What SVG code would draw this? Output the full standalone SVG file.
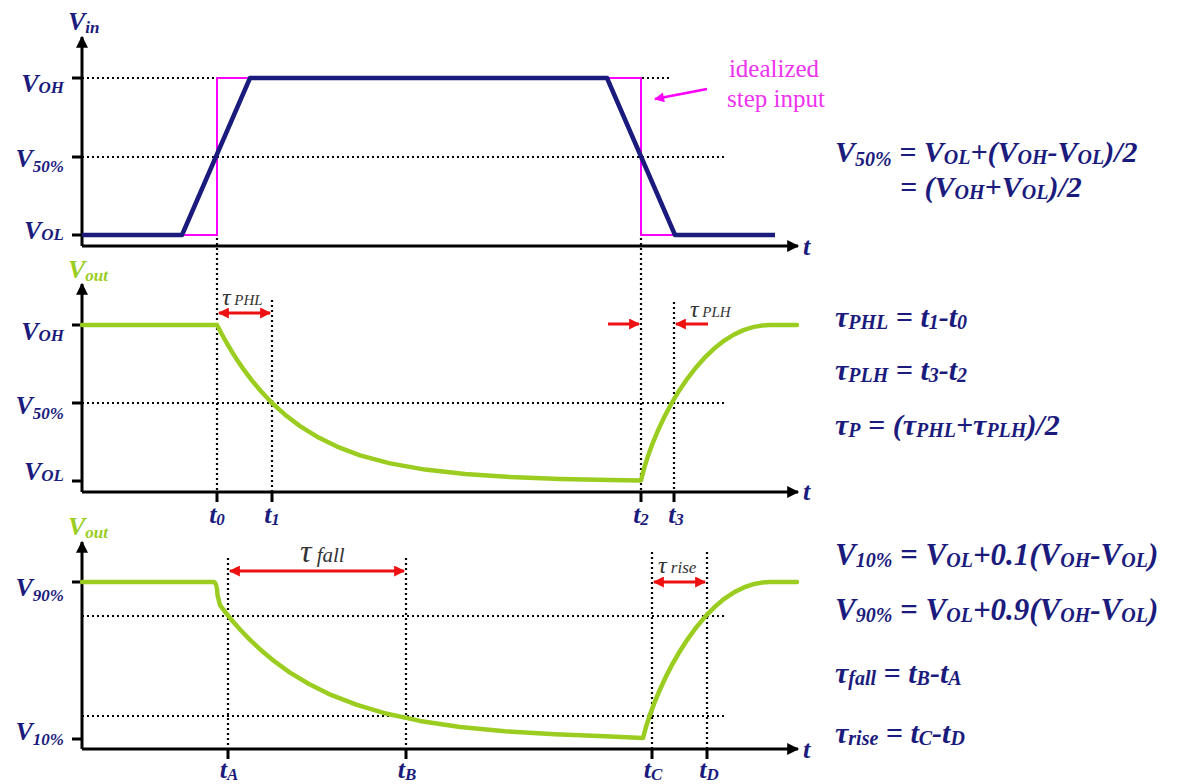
<svg xmlns="http://www.w3.org/2000/svg" width="1201" height="784" viewBox="0 0 1201 784" font-family="'Liberation Serif', 'DejaVu Serif', serif">
<style>
.ax{stroke:#000;stroke-width:3;fill:none}
.tk{stroke:#000;stroke-width:3;fill:none}
.dot{stroke:#000;stroke-width:2.2;stroke-dasharray:2 3;fill:none}
.blue{stroke:#1b1b7d;stroke-width:4.5;fill:none;stroke-linejoin:round}
.mag{stroke:#ff00ff;stroke-width:2;fill:none}
.grn{stroke:#9acd20;stroke-width:4.5;fill:none;stroke-linejoin:round;stroke-linecap:round}
.red{stroke:#ee1111;stroke-width:3;fill:none}
.L{font-family:'Liberation Serif','DejaVu Serif',serif;font-weight:bold;font-style:italic;fill:#1b1b7d;font-size:26px}
.G{fill:#9acd20}
.R{fill:#ee1111}
.s{font-size:17px}
.E{font-family:'Liberation Serif','DejaVu Serif',serif;font-weight:bold;font-style:italic;fill:#1b1b7d;font-size:30px}
.E2{font-size:31px}
.es{font-size:20px}
.T{font-family:'Liberation Serif','DejaVu Serif',serif;font-style:italic;fill:#333;font-size:24px}
.ts{font-size:15px}
.M{font-family:'Liberation Serif','DejaVu Serif',serif;fill:#ee33ee;font-size:25px}
</style>
<defs>
<marker id="ah" viewBox="0 0 10 10" refX="9" refY="5" markerWidth="14" markerHeight="12" markerUnits="userSpaceOnUse" orient="auto"><path d="M0,0 L10,5 L0,10 z" fill="#000"/></marker>
<marker id="rh" viewBox="0 0 10 10" refX="9" refY="5" markerWidth="12" markerHeight="11" markerUnits="userSpaceOnUse" orient="auto-start-reverse"><path d="M0,0 L10,5 L0,10 z" fill="#ee1111"/></marker>
<marker id="mh" viewBox="0 0 10 10" refX="9" refY="5" markerWidth="12" markerHeight="10" markerUnits="userSpaceOnUse" orient="auto"><path d="M0,0 L10,5 L0,10 z" fill="#ff00ff"/></marker>
</defs>

<g id="plot-vin">
<path class="dot" d="M82,78 H670 M82,157 H727"/>
<path class="ax" d="M82,246 V37" marker-end="url(#ah)"/>
<path class="ax" d="M82,246 H798" marker-end="url(#ah)"/>
<path class="tk" d="M72,78 H82 M72,157 H82 M72,235 H82"/>
<path class="mag" d="M182,235 H217 V78 H250 M607,78 H641 V235 H675"/>
<path class="blue" d="M82,235 H182 L250,78 H607 L675,235 H775"/>
<text class="L" x="68" y="30">V<tspan class="s" dy="3">in</tspan></text>
<text class="L" x="64" y="92" text-anchor="end">V<tspan class="s" dy="1">OH</tspan></text>
<text class="L" x="64" y="167" text-anchor="end">V<tspan class="s" dy="5">50%</tspan></text>
<text class="L" x="64" y="239" text-anchor="end">V<tspan class="s" dy="1">OL</tspan></text>
<text class="L" x="803" y="255">t</text>
</g>

<g id="step-note">
<text class="M" x="774" y="77" text-anchor="middle">idealized</text>
<text class="M" x="776" y="107" text-anchor="middle">step input</text>
<path d="M707,89 L655,99" stroke="#ff00ff" stroke-width="2.5" fill="none" marker-end="url(#mh)"/>
</g>

<g id="plot-vout1">
<path class="dot" d="M82,403 H727 M217,238 V492 M641,238 V492 M272,300 V492 M674,302 V492"/>
<path class="ax" d="M82,492 V284" marker-end="url(#ah)"/>
<path class="ax" d="M82,492 H798" marker-end="url(#ah)"/>
<path class="tk" d="M72,325 H82 M72,403 H82 M72,481 H82 M217,492 V502 M272,492 V502 M641,492 V502 M674,492 V502"/>
<path class="grn" d="M82,325 H217 L222,334.5 L227,343.5 L232,351.8 L237,359.7 L244,369.9 L252,380.6 L261,391.3 L272,403 L285,414.7 L300,426.1 L317,436.7 L337,446.6 L360,455.3 L390,463.4 L425,469.6 L465,474.1 L510,477.1 L560,478.9 L610,479.9 L641,480.5 C655,420 705,325 770,325 H797"/>
<text class="L G" x="68" y="278">V<tspan class="s" dy="3">out</tspan></text>
<text class="L" x="64" y="340" text-anchor="end">V<tspan class="s" dy="1">OH</tspan></text>
<text class="L" x="64" y="414" text-anchor="end">V<tspan class="s" dy="5">50%</tspan></text>
<text class="L" x="64" y="480" text-anchor="end">V<tspan class="s" dy="1">OL</tspan></text>
<text class="L" x="803" y="500">t</text>
<text class="L" x="217" y="523" text-anchor="middle">t<tspan class="s" dy="2">0</tspan></text>
<text class="L" x="272" y="523" text-anchor="middle">t<tspan class="s" dy="2">1</tspan></text>
<text class="L" x="641" y="523" text-anchor="middle">t<tspan class="s" dy="2">2</tspan></text>
<text class="L" x="676" y="523" text-anchor="middle">t<tspan class="s" dy="2">3</tspan></text>
<path class="red" d="M219,313 H270" marker-start="url(#rh)" marker-end="url(#rh)"/>
<path class="red" d="M608,324 H639" marker-end="url(#rh)"/>
<path class="red" d="M708,324 H676" marker-end="url(#rh)"/>
<text class="T" x="222" y="305">τ<tspan class="ts"> PHL</tspan></text>
<text class="T" x="690" y="317">τ<tspan class="ts"> PLH</tspan></text>
</g>

<g id="plot-vout2">
<path class="dot" d="M82,616 H727 M82,716 H727 M228,558 V749 M406,558 V749 M652,552 V749 M707,552 V749"/>
<path class="ax" d="M82,749 V542" marker-end="url(#ah)"/>
<path class="ax" d="M82,749 H798" marker-end="url(#ah)"/>
<path class="tk" d="M72,582 H82 M72,739 H82 M228,749 V759 M406,749 V759 M652,749 V759 M707,749 V759"/>
<path class="grn" d="M82,582 H214 Q217,583 217.5,595 L220,605.2 L224,610.4 L228,615.5 L234,622.7 L241,630.5 L250,639.9 L261,650.2 L274,661 L290,672.6 L309,684 L331,694.9 L357,704.9 L387,713.8 L420,720.9 L460,726.9 L505,731.3 L555,734.3 L605,736.2 L643,738 C656,685 705,582 770,582 H797"/>
<text class="L G" x="68" y="535">V<tspan class="s" dy="3">out</tspan></text>
<text class="L" x="64" y="596" text-anchor="end">V<tspan class="s" dy="5">90%</tspan></text>
<text class="L" x="64" y="740" text-anchor="end">V<tspan class="s" dy="5">10%</tspan></text>
<text class="L" x="803" y="758">t</text>
<text class="L" x="229" y="778" text-anchor="middle">t<tspan class="s" dy="2">A</tspan></text>
<text class="L" x="407" y="778" text-anchor="middle">t<tspan class="s" dy="2">B</tspan></text>
<text class="L" x="653" y="778" text-anchor="middle">t<tspan class="s" dy="2">C</tspan></text>
<text class="L" x="709" y="778" text-anchor="middle">t<tspan class="s" dy="2">D</tspan></text>
<path class="red" d="M230,571 H404" marker-start="url(#rh)" marker-end="url(#rh)"/>
<path class="red" d="M654,582 H705" marker-start="url(#rh)" marker-end="url(#rh)"/>
<text class="T" x="300" y="562" style="font-size:32px">τ<tspan style="font-size:21px"> fall</tspan></text>
<text class="T" x="658" y="573">τ<tspan style="font-size:17px"> rise</tspan></text>
</g>

<g id="equations">
<text class="E" x="835" y="162">V<tspan class="es" dy="4">50%</tspan><tspan dy="-4"> = V</tspan><tspan class="es" dy="2">OL</tspan><tspan dy="-2">+(V</tspan><tspan class="es" dy="2">OH</tspan><tspan dy="-2">-V</tspan><tspan class="es" dy="2">OL</tspan><tspan dy="-2">)/2</tspan></text>
<text class="E" x="900" y="197">= (V<tspan class="es" dy="2">OH</tspan><tspan dy="-2">+V</tspan><tspan class="es" dy="2">OL</tspan><tspan dy="-2">)/2</tspan></text>
<text class="E" x="835" y="327">τ<tspan class="es" dy="2">PHL</tspan><tspan dy="-2"> = t</tspan><tspan class="es" dy="2">1</tspan><tspan dy="-2">-t</tspan><tspan class="es" dy="2">0</tspan></text>
<text class="E" x="835" y="380">τ<tspan class="es" dy="2">PLH</tspan><tspan dy="-2"> = t</tspan><tspan class="es" dy="2">3</tspan><tspan dy="-2">-t</tspan><tspan class="es" dy="2">2</tspan></text>
<text class="E R" x="835" y="435">τ<tspan class="es" dy="2">P</tspan><tspan dy="-2">  = (τ</tspan><tspan class="es" dy="2">PHL</tspan><tspan dy="-2">+τ</tspan><tspan class="es" dy="2">PLH</tspan><tspan dy="-2">)/2</tspan></text>
<text class="E E2" x="835" y="565">V<tspan class="es" dy="2">10%</tspan><tspan dy="-2"> = V</tspan><tspan class="es" dy="2">OL</tspan><tspan dy="-2">+0.1(V</tspan><tspan class="es" dy="2">OH</tspan><tspan dy="-2">-V</tspan><tspan class="es" dy="2">OL</tspan><tspan dy="-2">)</tspan></text>
<text class="E E2" x="835" y="620">V<tspan class="es" dy="2">90%</tspan><tspan dy="-2"> = V</tspan><tspan class="es" dy="2">OL</tspan><tspan dy="-2">+0.9(V</tspan><tspan class="es" dy="2">OH</tspan><tspan dy="-2">-V</tspan><tspan class="es" dy="2">OL</tspan><tspan dy="-2">)</tspan></text>
<text class="E R" x="835" y="683">τ<tspan class="es" dy="2">fall</tspan><tspan dy="-2"> = t</tspan><tspan class="es" dy="2">B</tspan><tspan dy="-2">-t</tspan><tspan class="es" dy="2">A</tspan></text>
<text class="E R" x="835" y="743">τ<tspan class="es" dy="2">rise</tspan><tspan dy="-2"> = t</tspan><tspan class="es" dy="2">C</tspan><tspan dy="-2">-t</tspan><tspan class="es" dy="2">D</tspan></text>
</g>
</svg>
